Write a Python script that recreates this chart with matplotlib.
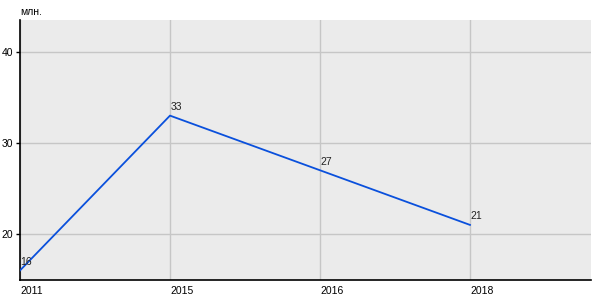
import matplotlib.pyplot as plt

years = ["2011", "2015", "2016", "2018"]
values = [16, 33, 27, 21]
yticks = [20, 30, 40]

plt.rcParams['font.family'] = ['Liberation Sans', 'DejaVu Sans']

fig = plt.figure(figsize=(6, 3), dpi=100)
ax = fig.add_axes([20 / 600, 20 / 300, 571 / 600, 260 / 300])
ax.set_facecolor('#ebebeb')

x = list(range(len(years)))
ax.plot(x, values, color='#0a50dc', lw=1.3, zorder=3)
for xi, v in zip(x, values):
    ax.annotate(str(v), (xi, v), xytext=(0.5, 2.5), textcoords='offset points',
                ha='left', va='bottom', fontsize=7.5, color='#222222')

ax.set_xlim(0, 3.807)
ax.set_ylim(14.95, 43.5)
ax.set_xticks(x)
ax.set_xticklabels(years, ha='left')
ax.set_yticks(yticks)
ax.grid(True, color='#c6c6c6', lw=1)
ax.set_axisbelow(True)
ax.tick_params(axis='x', length=0, pad=4, labelsize=7.5)
ax.tick_params(axis='y', length=3, width=1, pad=2, labelsize=7.5)
for s in ['top', 'right']:
    ax.spines[s].set_visible(False)
for s in ['left', 'bottom']:
    ax.spines[s].set_color('black')
    ax.spines[s].set_linewidth(1.2)

fig.text(20 / 600, 1 - 12 / 300, "млн.", fontsize=7.5, va='center', ha='left')

fig.savefig('out.png', dpi=100)
